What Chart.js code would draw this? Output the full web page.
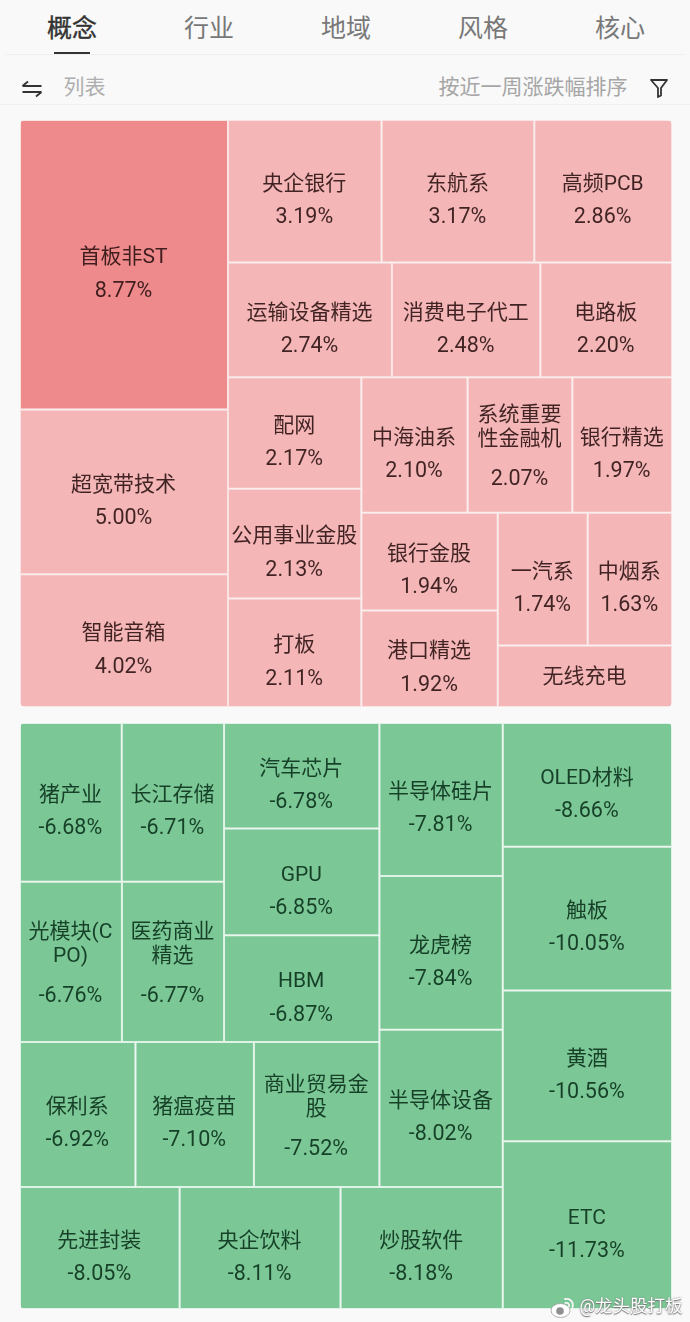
<!DOCTYPE html>
<html lang="zh">
<head>
<meta charset="utf-8">
<script src="https://cdn.jsdelivr.net/npm/chart.js@4/dist/chart.umd.min.js"></script>
<style>
html,body{margin:0;padding:0;background:#f9f9f9;width:690px;height:1322px;overflow:hidden;font-family:Roboto,"Noto Sans CJK SC",sans-serif}
.t{position:absolute;white-space:nowrap;line-height:1;transform:translate(-50%,-50%)}
.tab{font-size:25px;color:#787878;top:28px}
.line{position:absolute;background:#efefef;height:1px}
.panel{position:absolute;left:20px;width:652px;border-radius:5px;overflow:hidden}
canvas{display:block}
svg{position:absolute}
</style>
</head>
<body>
<div class="t tab" style="left:72px;color:#333;-webkit-text-stroke:.4px #333">概念</div>
<div class="t tab" style="left:209px">行业</div>
<div class="t tab" style="left:346px">地域</div>
<div class="t tab" style="left:483px">风格</div>
<div class="t tab" style="left:620px">核心</div>
<div class="line" style="left:5px;right:5px;top:54px"></div>
<div style="position:absolute;left:54px;top:52px;width:36px;height:2px;background:#333"></div>
<svg style="left:20px;top:78px" width="24" height="22" viewBox="0 0 24 22"><path d="M2.5 8H21.5M2.5 8L8 3.5M21.5 14H2.5M21.5 14L16 18.5" fill="none" stroke="#333" stroke-width="1.8"/></svg>
<div class="t" style="left:84.500px;top:87px;font-size:21px;color:#aeaeae">列表</div>
<div class="t" style="left:533px;top:87px;font-size:21px;color:#a6a6a6">按近一周涨跌幅排序</div>
<svg style="left:648px;top:77px" width="22" height="22" viewBox="0 0 22 22"><path d="M3 3H19L13 11V18.5L10 20V11Z" fill="none" stroke="#333" stroke-width="1.8" stroke-linejoin="round"/></svg>
<div class="line" style="left:0;right:0;top:104px"></div>

<div class="panel" style="top:120px;height:587px"><canvas id="red" width="652" height="587"></canvas></div>
<div class="panel" style="top:723px;height:586px"><canvas id="green" width="652" height="586"></canvas></div>

<svg style="left:550px;top:1296px" width="26" height="24" viewBox="0 0 26 24"><ellipse cx="10.500" cy="14.500" rx="9.500" ry="7" fill="#fff" stroke="#999" stroke-width=".8"/><circle cx="10" cy="15" r="3.800" fill="#8f8f8f"/><path d="M15 3C20.500 2 24 6 22.500 11.500M15.500 7C18 6.500 19.800 8.300 19 10.500" fill="none" stroke="#f4f4f4" stroke-width="1.800" stroke-linecap="round"/></svg>
<div class="t" style="left:631px;top:1307px;font-size:17.500px;color:#fff;text-shadow:0 0 2px #777,0 1px 1px #777">@龙头股打板</div>

<script>
const redNames = ["首板非ST","超宽带技术","智能音箱","央企银行","东航系","高频PCB","运输设备精选","消费电子代工","电路板","配网","公用事业金股","打板","中海油系","系统重要性金融机","银行精选","银行金股","港口精选","一汽系","中烟系","无线充电"];
const redValues = [8.77,5.00,4.02,3.19,3.17,2.86,2.74,2.48,2.20,2.17,2.13,2.11,2.10,2.07,1.97,1.94,1.92,1.74,1.63,1.56];
const greenNames = ["ETC","黄酒","触板","OLED材料","炒股软件","央企饮料","先进封装","半导体设备","龙虎榜","半导体硅片","商业贸易金股","猪瘟疫苗","保利系","HBM","GPU","汽车芯片","医药商业精选","光模块(CPO)","长江存储","猪产业"];
const greenValues = [-11.73,-10.56,-10.05,-8.66,-8.18,-8.11,-8.05,-8.02,-7.84,-7.81,-7.52,-7.10,-6.92,-6.87,-6.85,-6.78,-6.77,-6.76,-6.71,-6.68];

// Squarified treemap: returns rectangles as fractions of the panel, from value magnitudes only.
function squarify(values, W, H) {
  const order = values.map((v, i) => i).sort((a, b) => Math.abs(values[b]) - Math.abs(values[a]));
  const total = values.reduce((s, v) => s + Math.abs(v), 0);
  const k = W * H / total;
  const out = [];
  let x = 0, y = 0, w = W, h = H, pos = 0;
  const worst = (sum, max, min, side) => Math.max(side * side * max / (sum * sum), sum * sum / (side * side * min));
  while (pos < order.length) {
    const side = Math.min(w, h);
    let end = pos, sum = 0, max = 0, min = Infinity, best = Infinity;
    while (end < order.length) {
      const a = Math.abs(values[order[end]]) * k;
      const r = worst(sum + a, Math.max(max, a), Math.min(min, a), side);
      if (r > best) break;
      best = r; sum += a; max = Math.max(max, a); min = Math.min(min, a); end++;
    }
    const thick = sum / side;
    let off = 0;
    for (let j = pos; j < end; j++) {
      const len = Math.abs(values[order[j]]) * k / thick;
      out[order[j]] = w <= h
        ? { x0: (x + off) / W, x1: (x + off + len) / W, y0: y / H, y1: (y + thick) / H }
        : { x0: x / W, x1: (x + thick) / W, y0: (y + off) / H, y1: (y + off + len) / H };
      off += len;
    }
    if (w <= h) { y += thick; h -= thick; } else { x += thick; w -= thick; }
    pos = end;
  }
  return out;
}

class TreemapController extends Chart.DatasetController {
  static id = 'treemap';
  static defaults = { dataElementType: 'bar' };
  update(mode) {
    const meta = this.getMeta();
    this.updateElements(meta.data, 0, meta.data.length, mode);
  }
  getMinMax() { return { min: 0, max: 1 }; }
  updateElements(rects, start, count, mode) {
    const ds = this.getDataset();
    const xs = this.getScaleForId('x'), ys = this.getScaleForId('y');
    const cells = squarify(ds.data, xs.width, ys.height);
    for (let i = start; i < start + count; i++) {
      const c = cells[i];
      const a = xs.getPixelForValue(c.x0), b = xs.getPixelForValue(c.x1);
      const t = ys.getPixelForValue(c.y0), u = ys.getPixelForValue(c.y1);
      this.updateElement(rects[i], i, {
        x: (a + b) / 2, width: Math.abs(b - a), y: Math.min(t, u), base: Math.max(t, u),
        horizontal: false, inflateAmount: 0, borderSkipped: {}, enableBorderRadius: false,
        options: {
          backgroundColor: ds.cellColor(ds.data[i]), borderColor: ds.edgeColor,
          borderWidth: 1, borderRadius: 0
        }
      }, mode);
    }
  }
  draw() {
    const ctx = this.chart.ctx, ds = this.getDataset(), meta = this.getMeta();
    meta.data.forEach(el => el.draw(ctx));
    ctx.save();
    ctx.textAlign = 'center';
    ctx.textBaseline = 'middle';
    ctx.fillStyle = ds.textColor;
    meta.data.forEach((el, i) => {
      const top = el.y, h = el.base - el.y, cy = top + h / 2 + 1.5, cx = el.x - 0.5;
      ctx.font = '21px Roboto, "Noto Sans CJK SC"';
      const lines = wrap(ctx, ds.labels[i], el.width - 6);
      const n = lines.length;
      const showValue = h >= 70;
      const first = showValue ? cy - 8 - 22.5 * (n - 1) : cy;
      lines.forEach((s, j) => ctx.fillText(s, cx, first + j * 24));
      if (showValue) {
        ctx.font = '21.5px Roboto, "Noto Sans CJK SC"';
        ctx.fillText(ds.data[i].toFixed(2) + '%', cx, cy + 25 + 8.5 * (n - 1));
      }
    });
    ctx.restore();
  }
}
function wrap(ctx, text, maxW) {
  const lines = [];
  let cur = '';
  for (const ch of text) {
    if (cur && ctx.measureText(cur + ch).width > maxW) { lines.push(cur); cur = ch; }
    else cur += ch;
  }
  lines.push(cur);
  return lines;
}
Chart.register(TreemapController);

function panel(id, names, values, flip, cellColor, edgeColor, textColor) {
  new Chart(document.getElementById(id), {
    type: 'treemap',
    data: { labels: names, datasets: [{ labels: names, data: values, parsing: false, cellColor, edgeColor, textColor }] },
    options: {
      responsive: false, animation: false,
      events: [],
      layout: { padding: 0 },
      plugins: { legend: { display: false }, tooltip: { enabled: false }, title: { display: false } },
      scales: {
        x: { type: 'linear', display: false, min: 0, max: 1, reverse: flip, offset: false },
        y: { type: 'linear', display: false, min: 0, max: 1, reverse: !flip, offset: false }
      }
    }
  });
}
document.fonts.ready.then(() => {
  panel('red', redNames, redValues, false, v => v >= 7 ? '#ee8a8c' : '#f4b6b7', '#fbe3e3', 'rgba(40,15,15,.88)');
  panel('green', greenNames, greenValues, true, () => '#7bc896', '#dff2e6', 'rgba(5,40,20,.85)');
});
</script>
</body>
</html>
